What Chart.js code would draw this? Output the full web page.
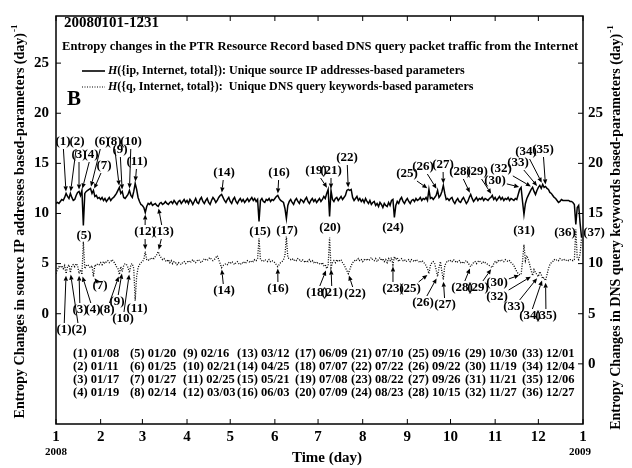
<!DOCTYPE html>
<html><head><meta charset="utf-8">
<style>html,body{margin:0;padding:0;background:#fff;}canvas{display:block;}</style>
<script src="https://cdn.jsdelivr.net/npm/chart.js@4.4.1/dist/chart.umd.min.js"></script>
</head><body>
<canvas id="c" width="632" height="468"></canvas>
<script>
// ---------- DATA ----------
// Daily entropy changes, H({ip, Internet, total}) (left axis), day 0 = 2008-01-01
const ipValues = [
 11.0,11.1,11.0,11.2,11.4,11.3,11.6,12.0,11.7,11.5,12.0,11.6,11.3,11.4,11.8,12.1,12.2,11.8,12.3,8.8,12.0,12.2,12.3,12.4,12.5,12.0,12.3,11.7,11.8,11.5,11.6,
 11.4,11.6,11.3,11.5,11.2,11.4,11.6,11.3,11.5,11.6,11.8,12.0,12.3,12.6,12.0,12.2,11.6,11.5,11.7,11.9,12.3,11.8,11.6,12.2,13.0,12.4,11.6,11.2,10.9,
 10.8,10.6,10.1,10.7,11.0,10.9,11.1,10.8,10.9,11.0,10.8,10.7,11.0,11.1,10.9,11.0,11.2,11.0,10.9,11.1,11.2,11.0,11.3,11.1,10.9,11.2,11.3,11.0,11.2,11.4,11.1,
 11.3,11.0,11.4,11.2,10.9,11.2,11.5,11.1,11.0,11.4,11.6,11.2,11.0,11.3,11.5,11.1,10.9,11.3,11.6,11.4,11.1,11.3,11.6,11.8,11.9,11.6,11.3,11.1,11.4,11.6,
 11.2,11.0,11.4,11.6,11.2,11.0,11.3,11.5,11.2,11.4,11.1,11.3,11.5,11.2,11.4,11.6,11.3,11.5,11.2,11.4,9.2,11.3,11.5,11.2,11.1,11.4,11.3,11.5,11.2,11.4,11.3,
 11.5,11.7,11.8,11.5,11.3,11.2,11.1,10.5,9.5,10.8,11.2,11.4,11.1,10.9,11.3,11.5,11.2,11.0,11.4,11.3,11.1,11.4,11.6,11.2,11.0,11.3,11.5,11.2,11.4,11.1,
 11.3,11.5,11.2,11.4,11.7,11.5,12.0,12.4,9.7,12.3,11.4,11.2,11.5,11.6,11.3,11.5,11.7,11.4,11.6,11.8,12.3,12.4,12.3,12.4,11.6,11.3,11.5,11.7,11.3,11.5,11.2,
 11.4,11.1,11.5,11.2,11.0,11.3,10.9,11.1,11.2,10.8,11.0,10.7,11.1,10.9,10.6,11.0,10.8,10.7,11.1,10.8,11.3,11.4,9.6,10.8,11.2,11.0,11.4,11.6,11.2,11.0,11.3,
 11.5,11.2,11.0,11.3,11.4,11.2,11.5,11.3,11.4,11.6,11.3,11.5,11.4,11.6,11.3,12.4,11.5,11.6,11.4,11.6,11.8,12.3,11.6,11.8,12.2,12.8,12.0,11.4,11.5,11.3,
 11.5,11.6,11.2,11.0,11.3,11.5,11.2,11.1,11.4,11.6,11.3,11.0,11.2,11.6,11.9,11.5,11.2,11.4,11.6,11.3,11.5,11.4,11.6,11.3,11.5,11.4,11.3,11.5,11.6,11.8,11.4,
 11.6,11.3,11.5,11.7,11.4,11.6,11.3,11.5,11.4,11.6,11.3,11.5,11.4,11.3,11.5,11.4,11.9,12.4,12.6,11.2,9.9,11.0,11.5,11.8,12.1,12.4,12.6,12.2,11.9,12.3,
 12.6,12.8,12.5,12.9,12.6,12.7,12.5,12.4,12.1,12.0,11.8,11.6,11.5,11.3,11.1,11.2,11.4,11.3,11.3,11.3,11.3,11.3,11.2,11.2,11.1,10.9,8.9,10.6,10.8,9.0,7.6
];
// Daily entropy changes, H({q, Internet, total}) (right axis)
const qValues = [
 9.0,9.4,9.7,9.6,9.8,9.5,9.8,9.0,9.7,9.9,9.1,9.8,9.9,9.7,10.0,9.8,9.0,9.4,8.9,12.2,9.5,9.8,9.9,9.7,9.6,9.8,8.7,9.9,9.8,10.0,9.9,
 10.1,9.9,10.2,10.0,10.2,10.3,10.1,10.2,10.4,10.2,10.0,9.7,9.5,8.9,9.7,9.2,9.8,10.0,9.9,9.6,9.1,9.9,10.0,9.5,6.3,8.7,9.6,9.9,10.1,
 10.2,10.4,11.2,10.4,10.3,10.5,10.4,10.6,10.5,10.7,10.9,11.2,10.8,10.6,10.4,10.5,10.3,10.2,10.4,10.1,10.3,10.0,10.2,10.1,9.9,10.1,10.0,9.9,10.1,10.2,10.0,
 10.1,10.3,10.1,10.2,10.4,10.2,10.1,10.3,10.4,10.2,10.1,10.3,10.5,10.4,10.3,10.5,10.6,10.4,10.3,10.4,10.6,10.8,10.4,10.0,9.6,9.8,9.9,10.0,9.9,10.1,
 10.0,10.2,10.1,9.9,10.1,10.2,10.0,9.9,10.1,10.0,10.2,10.1,10.3,10.2,10.1,10.3,10.2,10.4,10.3,10.5,12.5,10.4,10.3,10.2,10.4,10.3,10.2,10.4,10.2,10.3,10.2,
 10.1,9.9,9.7,9.9,10.1,10.2,10.4,10.8,12.7,10.6,10.5,10.4,10.5,10.3,10.4,10.3,10.5,10.4,10.2,10.4,10.3,10.1,10.3,10.2,10.4,10.2,10.3,10.1,10.2,10.0,
 10.1,10.0,9.9,10.1,9.8,9.9,9.5,9.8,12.6,9.6,10.1,10.3,10.1,10.4,10.2,10.3,10.4,10.1,9.9,9.6,9.3,9.0,9.4,9.8,10.1,10.2,10.4,10.3,10.5,10.3,10.4,
 10.2,10.4,10.3,10.5,10.3,10.4,10.6,10.4,10.3,10.5,10.2,10.4,10.6,10.3,10.5,10.2,10.4,10.1,10.5,10.3,10.6,9.9,10.7,10.4,10.6,10.2,10.4,10.5,10.3,10.4,10.2,
 10.3,10.4,10.2,10.4,10.3,10.2,10.4,10.3,10.2,10.1,10.3,10.2,10.0,9.8,9.5,9.0,9.8,10.1,10.2,10.0,9.4,8.7,9.6,10.2,9.2,8.4,9.8,10.1,10.3,10.2,
 10.3,10.2,10.4,10.3,10.1,10.2,10.3,10.1,10.2,10.0,10.2,10.3,10.1,9.9,9.7,9.9,10.1,10.2,10.0,10.2,10.3,10.1,10.0,10.2,10.1,10.0,9.9,9.8,9.7,9.6,10.0,
 10.2,10.1,10.3,10.2,10.4,10.3,10.2,10.4,10.3,10.2,10.3,10.1,10.0,9.8,9.5,9.2,9.0,8.9,8.9,10.2,11.9,10.3,10.8,10.4,9.9,9.3,8.8,9.4,9.1,8.9,
 8.7,9.2,8.9,8.5,8.6,8.3,8.9,9.5,9.9,10.1,10.2,10.4,10.3,10.4,10.3,10.5,10.4,10.3,10.4,10.3,10.4,10.3,10.4,10.4,10.3,10.4,13.4,10.6,10.4,11.0,12.6
];
const monthTickDays   = [0,31,60,91,121,152,182,213,244,274,305,335,366];
const monthTickLabels = ['1','2','3','4','5','6','7','8','9','10','11','12','1'];
const leftTicks  = [0,5,10,15,20,25];
const rightTicks = [0,5,10,15,20,25,30];
const eventDates = ['01/08','01/11','01/17','01/19','01/20','01/25','01/27','02/14','02/16','02/21','02/25','03/03',
 '03/12','04/25','05/21','06/03','06/09','07/07','07/08','07/09','07/10','07/22','08/22','08/23',
 '09/16','09/22','09/26','10/15','10/30','11/19','11/21','11/27','12/01','12/04','12/06','12/27'];

// ---------- LAYOUT (label placement, pixels) ----------
const monthStart=[0,31,60,91,121,152,182,213,244,274,305,335];
function dayOf(s){const p=s.split('/').map(Number);return monthStart[p[0]-1]+p[1]-1;}
// [event number, label x, label y, targets]
const annot = [
 [1,63,142,'ip'],[2,77,142,'ip'],[3,79,155,'ip'],[4,91,155,'ip'],[6,102,142,'ip'],[7,104,166,'ip'],
 [8,114,142,'ip'],[9,120,150,'ip'],[10,131,142,'ip'],[11,137,162,'ip'],[14,224,173,'ip'],[16,279,173,'ip'],
 [19,316,171,'ip'],[21,331,171,'ip'],[22,347,158,'ip'],[25,407,174,'ip'],[26,423,167,'ip'],[27,443,165,'ip'],
 [28,460,172,'ip'],[29,477,172,'ip'],[30,495,181,'ip'],[32,501,169,'ip'],[33,518,163,'ip'],[34,526,152,'ip'],[35,543,150,'ip'],
 [5,84,236,''],[15,260,232,''],[17,287,231,''],[20,330,228,''],[24,393,228,''],[31,524,231,''],[36,565,233,''],[37,594,233,''],
 [12,145,232,'ip,q'],[13,163,232,'ip,q'],
 [1,64,330,'q'],[2,79,330,'q'],[3,80,310,'q'],[4,93,310,'q'],[7,100,286,'q'],[8,107,310,'q'],[9,117,302,'q'],[10,123,319,'q'],[11,137,309,''],
 [14,224,291,'q'],[16,278,289,'q'],[18,317,293,'q'],[21,332,293,'q'],[22,355,294,'q'],[23,393,289,'q'],[25,410,289,'q'],
 [26,423,303,'q'],[27,445,305,'q'],[28,462,288,'q'],[29,478,288,'q'],[30,497,283,'q'],[32,497,297,'q'],[33,514,307,'q'],[34,530,316,'q'],[35,546,316,'q']
];

const SERIF='"Liberation Serif","DejaVu Serif",serif';
function arrow(ctx,x0,y0,x1,y1){
  const a=Math.atan2(y1-y0,x1-x0),L=5,W=2.2;
  const bx=x1-L*Math.cos(a),by=y1-L*Math.sin(a);
  ctx.beginPath();ctx.moveTo(x0,y0);ctx.lineTo(bx,by);ctx.stroke();
  ctx.beginPath();ctx.moveTo(x1,y1);ctx.lineTo(bx+W*Math.sin(a),by-W*Math.cos(a));ctx.lineTo(bx-W*Math.sin(a),by+W*Math.cos(a));ctx.closePath();ctx.fill();
}

const deco = {
  id:'deco',
  afterDraw(chart){
    const ctx=chart.ctx, a=chart.chartArea, sx=chart.scales.x, sy=chart.scales.y, sy2=chart.scales.y2;
    ctx.save();
    ctx.strokeStyle='#000';ctx.fillStyle='#000';
    // frame
    ctx.lineWidth=1.5;ctx.strokeRect(a.left,a.top,a.right-a.left,a.bottom-a.top);
    // inward ticks
    ctx.lineWidth=1;ctx.beginPath();
    monthTickDays.forEach(d=>{const x=sx.getPixelForValue(d);ctx.moveTo(x,a.bottom);ctx.lineTo(x,a.bottom-5);ctx.moveTo(x,a.top);ctx.lineTo(x,a.top+5);});
    leftTicks.forEach(v=>{const y=sy.getPixelForValue(v);ctx.moveTo(a.left,y);ctx.lineTo(a.left+5,y);});
    rightTicks.forEach(v=>{const y=sy2.getPixelForValue(v);ctx.moveTo(a.right,y);ctx.lineTo(a.right-5,y);});
    ctx.stroke();
    // year labels
    ctx.font='bold 11px '+SERIF;ctx.textAlign='center';ctx.textBaseline='middle';
    ctx.fillText('2008',sx.getPixelForValue(0),452);
    ctx.fillText('2009',sx.getPixelForValue(366)-3,452);
    // x title
    ctx.font='bold 15px '+SERIF;
    ctx.fillText('Time (day)',327,458);
    // y titles
    function vtitle(txt,cx,cy){
      ctx.save();ctx.translate(cx,cy);ctx.rotate(-Math.PI/2);
      ctx.font='bold 14px '+SERIF;const w1=ctx.measureText(txt).width;
      ctx.font='bold 9px '+SERIF;const w2=ctx.measureText('-1').width;
      const x0=-(w1+w2)/2;
      ctx.textAlign='left';ctx.textBaseline='middle';
      ctx.font='bold 14px '+SERIF;ctx.fillText(txt,x0,0);
      ctx.font='bold 9px '+SERIF;ctx.fillText('-1',x0+w1+1,-5);
      ctx.restore();
    }
    vtitle('Entropy Changes in source IP addresses based-parameters (day)',20,222);
    vtitle('Entropy Changes in DNS query keywords based-parameters (day)',616,228);
    // titles inside
    ctx.textAlign='left';ctx.textBaseline='middle';
    ctx.font='bold 15px '+SERIF;ctx.fillText('20080101-1231',64,23);
    ctx.font='bold 12.6px '+SERIF;ctx.fillText('Entropy changes in the PTR Resource Record based DNS query packet traffic from the Internet',62,47);
    // legend
    function legendRow(y,dash,mid,rest){
      ctx.save();ctx.lineWidth=dash?1.2:1.6;ctx.setLineDash(dash||[]);ctx.beginPath();ctx.moveTo(82,y);ctx.lineTo(105,y);ctx.stroke();ctx.restore();
      ctx.font='italic bold 12px '+SERIF;ctx.fillText('H',108,y);
      const w=ctx.measureText('H').width;
      ctx.font='bold 12px '+SERIF;ctx.fillText(mid+rest,108+w,y);
    }
    legendRow(71,null,'({ip, Internet, total}): ','Unique source IP addresses-based parameters');
    legendRow(87,[1,1.5],'({q, Internet, total}):  ','Unique DNS query keywords-based parameters');
    ctx.font='bold 21px '+SERIF;ctx.fillText('B',67,100);
    // annotations
    ctx.font='bold 13px '+SERIF;ctx.textAlign='center';ctx.lineWidth=1;
    annot.forEach(([n,lx,ly,tg])=>{
      const t='('+n+')';
      ctx.fillText(t,lx,ly);
      if(!tg) return;
      const hw=ctx.measureText(t).width/2+1, hh=7;
      tg.split(',').forEach(s=>{
        const d=dayOf(eventDates[n-1]);
        const px=sx.getPixelForValue(d);
        const py= s==='ip'? sy.getPixelForValue(ipValues[d]) : sy2.getPixelForValue(qValues[d]);
        const dx=px-lx, dy=py-ly;
        const k=Math.min(Math.abs(dx)>0?hw/Math.abs(dx):1e9, Math.abs(dy)>0?hh/Math.abs(dy):1e9);
        const len=Math.hypot(dx,dy), g=2/len;
        arrow(ctx,lx+dx*k,ly+dy*k,px-dx*g,py-dy*g);
      });
    });
    // date table
    ctx.font='bold 12.5px '+SERIF;ctx.textAlign='left';
    const colX=[73,130,183,237,295,351,408,465,522], rowY=[354,367,380,393];
    eventDates.forEach((s,i)=>{
      const c=Math.floor(i/4), r=i%4;
      ctx.fillText('('+(i+1)+') '+s,colX[c],rowY[r]);
    });
    ctx.restore();
  }
};

const tickFont={family:SERIF,size:15,weight:'bold'};
new Chart(document.getElementById('c'),{
  type:'line',
  data:{datasets:[
    {label:'ip',data:ipValues.map((v,i)=>({x:i,y:v})),yAxisID:'y',borderColor:'#000',borderWidth:1.5,pointRadius:0,tension:0,fill:false},
    {label:'q',data:qValues.map((v,i)=>({x:i,y:v})),yAxisID:'y2',borderColor:'#000',borderWidth:1.3,borderDash:[1,1.5],pointRadius:0,tension:0,fill:false}
  ]},
  options:{
    responsive:false,animation:false,events:[],
    layout:{padding:{top:16,left:0,right:0,bottom:0}},
    plugins:{legend:{display:false},tooltip:{enabled:false}},
    scales:{
      x:{type:'linear',min:0,max:366,position:'bottom',
         afterBuildTicks(s){s.ticks=monthTickDays.map(v=>({value:v}));},
         afterFit(s){s.height=44;},
         ticks:{autoSkip:false,maxRotation:0,padding:4,color:'#000',font:tickFont,
           callback:(v,i)=>monthTickLabels[i]},
         grid:{display:false,drawTicks:false},border:{display:false}},
      y:{type:'linear',min:-11,max:29.7,position:'left',
         afterBuildTicks(s){s.ticks=leftTicks.map(v=>({value:v}));},
         afterFit(s){s.width=56;},
         ticks:{padding:7,color:'#000',font:tickFont},
         grid:{display:false,drawTicks:false},border:{display:false}},
      y2:{type:'linear',min:-6,max:34.7,position:'right',
         afterBuildTicks(s){s.ticks=rightTicks.map(v=>({value:v}));},
         afterFit(s){s.width=49;},
         ticks:{padding:5,color:'#000',font:tickFont,callback:(v)=>v===30?'':String(v)},
         grid:{display:false,drawTicks:false},border:{display:false}}
    }
  },
  plugins:[deco]
});
</script>
</body></html>
